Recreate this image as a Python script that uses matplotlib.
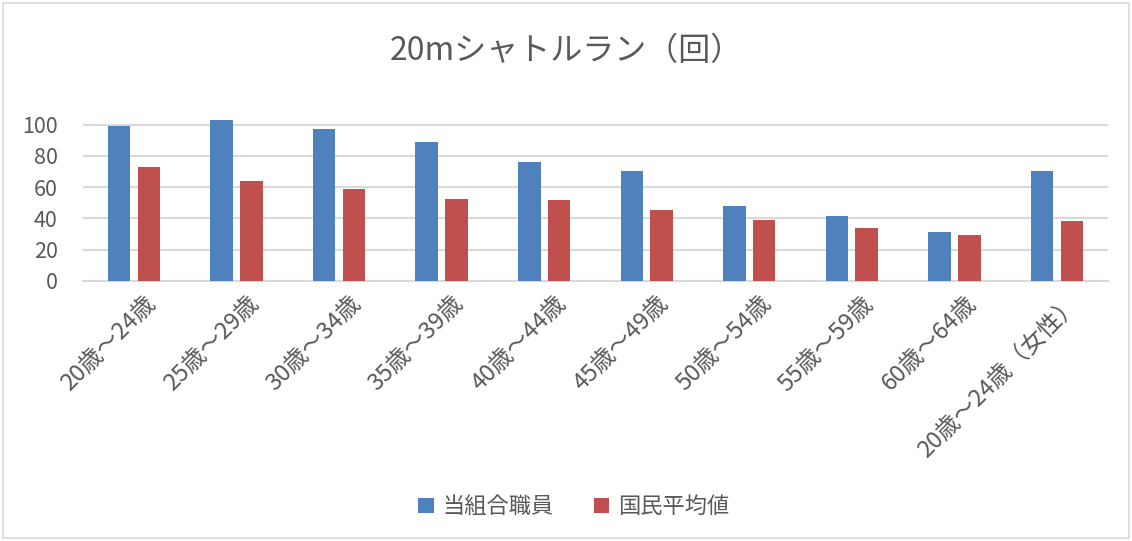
import numpy as np
import matplotlib
matplotlib.use("Agg")
import matplotlib.pyplot as plt
from matplotlib.patches import Rectangle

plt.rcParams["font.family"] = ["Noto Sans CJK JP", "DejaVu Sans"]

# data
categories = ["20歳～24歳", "25歳～29歳", "30歳～34歳", "35歳～39歳", "40歳～44歳",
              "45歳～49歳", "50歳～54歳", "55歳～59歳", "60歳～64歳", "20歳～24歳（女性）"]
staff = [99, 103, 97, 89, 76, 70, 48, 41.5, 31, 70]
national = [72.6, 64, 58.7, 52.3, 51.6, 45.5, 39, 34, 29.3, 38.5]
series_names = ["当組合職員", "国民平均値"]
yticks = [0, 20, 40, 60, 80, 100]

BLUE = "#4F81BD"
RED = "#C0504D"
TEXT = "#595959"
GRID = "#D9D9D9"

fig = plt.figure(figsize=(11.32, 5.41), dpi=100)
ax = fig.add_axes([0.073, 0.481, 0.906, 0.303])

x = np.arange(len(categories))
w = 0.22
ax.bar(x - 0.145, staff, w, color=BLUE, label=series_names[0], zorder=3)
ax.bar(x + 0.145, national, w, color=RED, label=series_names[1], zorder=3)

ax.set_xlim(-0.5, len(categories) - 0.5)
ax.set_ylim(0, 105)
ax.set_yticks(yticks)
ax.grid(axis="y", color=GRID, linewidth=1.5, zorder=0)
for s in ["top", "right", "left"]:
    ax.spines[s].set_visible(False)
ax.spines["bottom"].set_color(GRID)
ax.spines["bottom"].set_linewidth(1.5)
ax.tick_params(axis="both", length=0, colors=TEXT)
ax.tick_params(axis="y", pad=18, labelsize=15.5)
ax.tick_params(axis="x", pad=8)

ax.set_xticks(x + 0.1)
ax.set_xticklabels(categories, rotation=45, ha="right", rotation_mode="anchor",
                   fontsize=17, color=TEXT)

fig.text(0.5, 0.905, "20mシャトルラン（回）", ha="center", va="center",
         fontsize=23, color=TEXT)

fig.legend(loc="center", bbox_to_anchor=(0.507, 0.063), ncol=2, frameon=False,
           fontsize=16, labelcolor=TEXT, handlelength=0.7, handleheight=0.7,
           columnspacing=1.8, handletextpad=0.4)

# light chart-area border
fig.patches.append(Rectangle((0.003, 0.005), 0.994, 0.99, transform=fig.transFigure,
                             fill=False, edgecolor=GRID, linewidth=1.2))

fig.savefig("out.png", dpi=100)
